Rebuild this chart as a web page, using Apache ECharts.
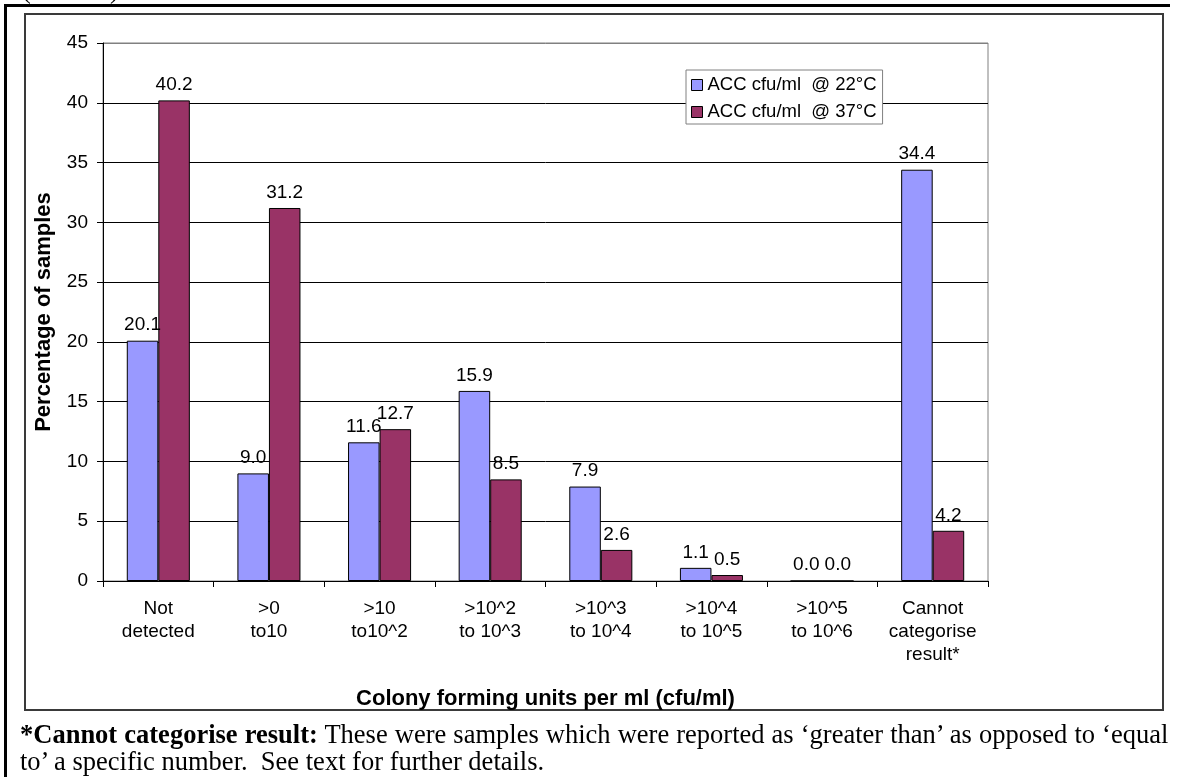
<!DOCTYPE html>
<html>
<head>
<meta charset="utf-8">
<script src="https://cdn.jsdelivr.net/npm/echarts@6/dist/echarts.min.js"></script>
<style>
  html, body { margin: 0; padding: 0; background: #fff; }
  #page { position: relative; width: 1177px; height: 777px; overflow: hidden; background: #fff; }
  #chart { position: absolute; left: 0; top: 0; width: 1177px; height: 777px; }
  .rule { position: absolute; background: #000; }
  .serif { position: absolute; font-family: "Liberation Serif", "Times New Roman", serif; font-size: 26.5px; line-height: 27px; color: #000; white-space: nowrap; }
</style>
</head>
<body>
<div id="page">
  <div id="chart"></div>
  <!-- document table frame -->
  <div class="rule" style="left:4px; top:4px; width:1166px; height:3px;"></div>
  <div class="rule" style="left:4px; top:4px; width:3px; height:773px;"></div>
  <!-- caption parentheses running above the frame -->
  <div class="serif" style="left:22px; top:-24px;">(</div>
  <div class="serif" style="left:110px; top:-24px;">)</div>
  <!-- footnote -->
  <div id="note1" class="serif" style="left:20px; top:721px;"><b>*Cannot categorise result:</b> These were samples which were reported as ‘greater than’ as opposed to ‘equal</div>
  <div id="note2" class="serif" style="left:20px; top:748px;">to’ a specific number.&nbsp; See text for further details.</div>
</div>
<script>
// Colony count bands (x axis)
const categories = [
  'Not\ndetected', '>0\nto10', '>10\nto10^2', '>10^2\nto 10^3',
  '>10^3\nto 10^4', '>10^4\nto 10^5', '>10^5\nto 10^6', 'Cannot\ncategorise\nresult*'
];
// Percentage of samples per band
const acc22 = [20.1, 9.0, 11.6, 15.9, 7.9, 1.1, 0.0, 34.4];
const acc37 = [40.2, 31.2, 12.7, 8.5, 2.6, 0.5, 0.0, 4.2];
const seriesNames = ['ACC cfu/ml  @ 22°C', 'ACC cfu/ml  @ 37°C'];
const yTicks = { min: 0, max: 45, step: 5 };

const FONT = '"Liberation Sans", Arial, sans-serif';

// stretch the first footnote line to the full text width
(function justify() {
  const el = document.getElementById('note1');
  const target = 1148;
  const spaces = (el.textContent.match(/ /g) || []).length;
  const extra = (target - el.offsetWidth) / spaces;
  el.style.wordSpacing = extra + 'px';
})();

const chart = echarts.init(document.getElementById('chart'), null, { renderer: 'canvas' });

const splitColors = [];
for (let v = yTicks.min; v <= yTicks.max; v += yTicks.step) {
  splitColors.push(v === yTicks.max ? '#808080' : '#000000');
}

const barLabel = {
  show: true,
  position: 'top',
  distance: 6,
  color: '#000',
  fontFamily: FONT,
  fontSize: 19,
  formatter: p => p.value.toFixed(1)
};

chart.setOption({
  animation: false,
  backgroundColor: '#fff',
  textStyle: { fontFamily: FONT },
  grid: {
    left: 103, top: 43, right: 189, bottom: 196,
    show: true, borderColor: '#808080', borderWidth: 1, backgroundColor: 'transparent'
  },
  legend: {
    orient: 'vertical',
    left: 686, top: 70,
    padding: [5, 6, 2, 5],
    itemGap: 7,
    itemWidth: 11, itemHeight: 11,
    itemTextGap: 5,
    icon: 'rect',
    backgroundColor: '#fff',
    borderColor: '#808080', borderWidth: 1,
    itemStyle: { borderColor: '#000', borderWidth: 1 },
    textStyle: { fontFamily: FONT, fontSize: 18.5, lineHeight: 20, color: '#000' },
    data: seriesNames
  },
  xAxis: {
    type: 'category',
    data: categories,
    name: 'Colony forming units per ml (cfu/ml)',
    nameLocation: 'middle',
    nameGap: 107,
    nameTextStyle: { fontFamily: FONT, fontSize: 22, fontWeight: 'bold', color: '#000' },
    axisLine: { lineStyle: { color: '#000', width: 1 } },
    axisTick: { show: true, alignWithLabel: false, length: 6, lineStyle: { color: '#000' } },
    axisLabel: { interval: 0, margin: 16, fontFamily: FONT, fontSize: 19, lineHeight: 23, color: '#000' },
    splitLine: { show: false }
  },
  yAxis: {
    type: 'value',
    min: yTicks.min, max: yTicks.max, interval: yTicks.step,
    name: 'Percentage of samples',
    nameLocation: 'middle',
    nameGap: 48,
    nameRotate: 90,
    nameTextStyle: { fontFamily: FONT, fontSize: 22, fontWeight: 'bold', color: '#000' },
    axisLine: { show: true, lineStyle: { color: '#000', width: 1 } },
    axisTick: { show: true, inside: false, length: 6, lineStyle: { color: '#000' } },
    axisLabel: { margin: 15, fontFamily: FONT, fontSize: 19, color: '#000' },
    splitLine: { show: true, lineStyle: { color: splitColors, width: 1 } }
  },
  series: [
    {
      name: seriesNames[0], type: 'bar', data: acc22,
      barGap: '0%', barCategoryGap: '43%',
      itemStyle: { color: '#9999FF', borderColor: '#000', borderWidth: 1 },
      label: barLabel
    },
    {
      name: seriesNames[1], type: 'bar', data: acc37,
      barGap: '0%', barCategoryGap: '43%',
      itemStyle: { color: '#993366', borderColor: '#000', borderWidth: 1 },
      label: barLabel
    }
  ],
  graphic: [
    {
      type: 'rect', silent: true, z: -1,
      shape: { x: 25, y: 14, width: 1138, height: 696 },
      style: { fill: 'none', stroke: '#3a3a3a', lineWidth: 2 }
    }
  ]
});
</script>
</body>
</html>
